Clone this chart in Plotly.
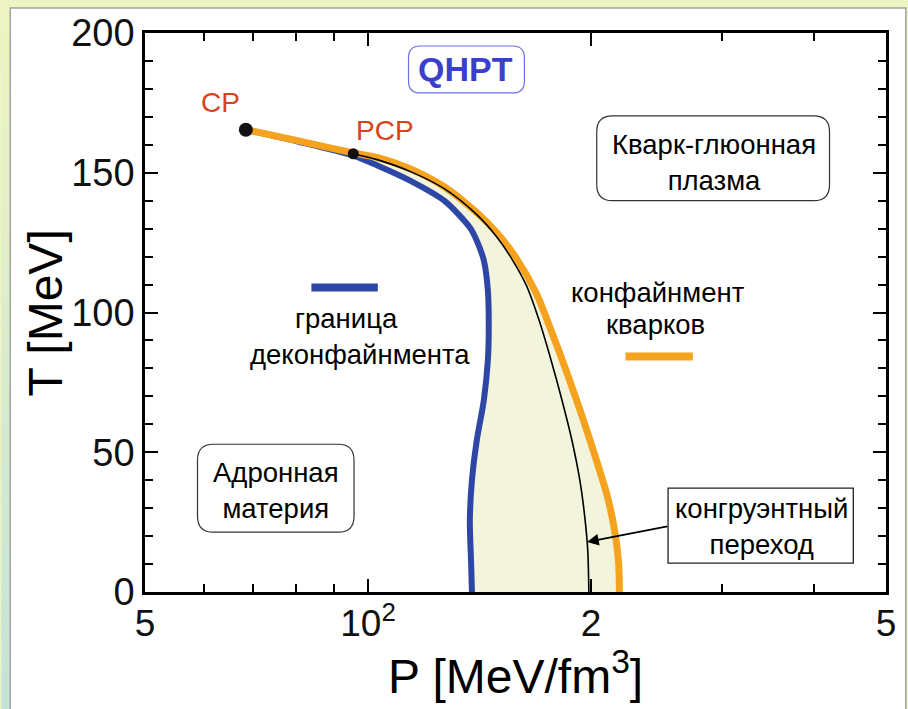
import numpy as np
import plotly.graph_objects as go

# Critical point (CP) and pseudo-critical point (PCP)
cp_P, cp_T = 68.4, 165.4
pcp_P, pcp_T = 95.5, 156.8

# Deconfinement boundary (blue)
decon_P = [68.4, 80.6, 95.5, 103.1, 114.1, 126.7, 137.2, 140.2, 143.3, 145.1,
           145.5, 145.1, 143.3, 140.2, 138.1, 137.2, 137.7, 138.1]
decon_T = [165.4, 161.1, 156.1, 152.5, 147.1, 140.0, 130.4, 125.7, 118.6, 107.9,
           93.6, 82.9, 68.6, 54.3, 40.0, 25.7, 11.4, 0.0]

# Quark confinement boundary (orange)
conf_P = [68.4, 80.6, 95.5, 103.1, 114.1, 126.7, 140.2, 149.1, 158.6, 168.7,
          176.6, 185.0, 194.3, 202.9, 210.5, 215.1, 217.8, 218.4]
conf_T = [165.4, 161.4, 157.1, 155.4, 151.4, 145.0, 135.7, 128.6, 119.3, 106.8,
          93.6, 79.3, 63.2, 47.9, 33.9, 22.1, 10.7, 0.0]

# Congruent transition (thin black)
cong_P = [95.5, 103.1, 114.1, 126.7, 140.2, 149.1, 156.2, 163.6, 170.2, 176.6,
          182.7, 188.4, 193.1, 196.1, 197.9, 198.6]
cong_T = [156.8, 154.6, 150.4, 144.3, 135.0, 127.1, 119.3, 109.6, 97.1, 82.9,
          68.6, 54.3, 40.0, 26.8, 15.0, 0.0]

# Axis ticks
x_tickvals = [50, 100, 200, 500]
x_ticktext = ["5", "10<sup>2</sup>", "2", "5"]
x_minor = [60, 70, 80, 90, 300, 400]
y_tickvals = [0, 50, 100, 150, 200]
x_range = [50, 500]
y_range = [0, 200]

FONT = "Liberation Sans, Arial, sans-serif"
BLUE = "#2e47a6"
ORANGE = "#f5a21f"
RED = "#d8441a"
FILL = "#f2f4dc"

# pixel geometry of the plot area (used for paper-coordinate decorations)
W, H = 908, 709
L, R, T_, B = 145, 15, 32, 117
PW, PH = W - L - R, H - T_ - B


def px(x):
    return (x - L) / PW


def py(y):
    return (H - B - y) / PH


def data_to_pixel(P, T):
    lo, hi = np.log10(x_range[0]), np.log10(x_range[1])
    xp = L + PW * (np.log10(P) - lo) / (hi - lo)
    yp = (H - B) - PH * (T - y_range[0]) / (y_range[1] - y_range[0])
    return xp, yp


def rounded(x0, y0, x1, y1, r):
    """Rounded rectangle path in paper coordinates (pixel inputs)."""
    a, b, c, d = px(x0), py(y1), px(x1), py(y0)
    rx, ry = r / PW, r / PH
    return (f"M {a+rx},{d} L {c-rx},{d} Q {c},{d} {c},{d-ry} "
            f"L {c},{b+ry} Q {c},{b} {c-rx},{b} L {a+rx},{b} "
            f"Q {a},{b} {a},{b+ry} L {a},{d-ry} Q {a},{d} {a+rx},{d} Z")


fig = go.Figure()

# shaded mixed-phase region between the two boundaries
poly_P = decon_P[2:] + conf_P[2:][::-1]
poly_T = decon_T[2:] + conf_T[2:][::-1]
fig.add_trace(go.Scatter(x=poly_P, y=poly_T, mode="lines", fill="toself",
                         fillcolor=FILL, line=dict(width=0, shape="spline"),
                         hoverinfo="skip", showlegend=False))

fig.add_trace(go.Scatter(x=decon_P, y=decon_T, mode="lines",
                         line=dict(color=BLUE, width=6, shape="spline", smoothing=0.8),
                         showlegend=False))
fig.add_trace(go.Scatter(x=conf_P, y=conf_T, mode="lines",
                         line=dict(color=ORANGE, width=7, shape="spline", smoothing=0.8),
                         showlegend=False))
fig.add_trace(go.Scatter(x=cong_P, y=cong_T, mode="lines",
                         line=dict(color="black", width=1.6, shape="spline", smoothing=0.8),
                         showlegend=False))
fig.add_trace(go.Scatter(x=[cp_P], y=[cp_T], mode="markers",
                         marker=dict(color="#111111", size=14), showlegend=False))
fig.add_trace(go.Scatter(x=[pcp_P], y=[pcp_T], mode="markers",
                         marker=dict(color="#111111", size=11), showlegend=False))

shapes = []
# page background: pale strips and white panel with grey border
n = 40
top_c = np.array([0xef, 0xf5, 0xc2])
bot_c = np.array([0xc6, 0xe3, 0xd9])
for i in range(n):
    t = (i + 0.5) / n
    c = (top_c * (1 - t) + bot_c * t).astype(int)
    shapes.append(dict(type="rect", xref="paper", yref="paper",
                       x0=px(0), x1=px(10), y0=py(i * H / n), y1=py((i + 1) * H / n + 1),
                       fillcolor=f"rgb({c[0]},{c[1]},{c[2]})", line=dict(width=0),
                       layer="below"))
shapes.append(dict(type="rect", xref="paper", yref="paper",
                   x0=px(9), x1=px(W + 5), y0=py(H + 5), y1=py(7),
                   fillcolor="white", line=dict(color="#a3a3a3", width=1.5),
                   layer="below"))

# legend-style line samples
shapes.append(dict(type="line", xref="paper", yref="paper",
                   x0=px(313), x1=px(380), y0=py(287), y1=py(287),
                   line=dict(color=BLUE, width=8)))
shapes.append(dict(type="line", xref="paper", yref="paper",
                   x0=px(630), x1=px(698), y0=py(356), y1=py(356),
                   line=dict(color=ORANGE, width=8)))

# label boxes
shapes.append(dict(type="path", xref="paper", yref="paper",
                   path=rounded(411, 45, 528, 92, 12),
                   fillcolor="white", line=dict(color="#6b6fe0", width=1.2)))
shapes.append(dict(type="path", xref="paper", yref="paper",
                   path=rounded(601, 115, 836, 200, 16),
                   fillcolor="white", line=dict(color="#333333", width=1.2)))
shapes.append(dict(type="path", xref="paper", yref="paper",
                   path=rounded(198, 444, 356, 532, 16),
                   fillcolor="white", line=dict(color="#333333", width=1.2)))
shapes.append(dict(type="rect", xref="paper", yref="paper",
                   x0=px(673), x1=px(860), y0=py(563), y1=py(488),
                   fillcolor="white", line=dict(color="#222222", width=1.3)))

ann = []


def label(x, y, text, size=27, color="black", **kw):
    ann.append(dict(xref="paper", yref="paper", x=px(x), y=py(y), text=text,
                    showarrow=False, xanchor="center", yanchor="middle",
                    font=dict(family=FONT, size=size, color=color), **kw))


label(469, 68, "<b>QHPT</b>", size=34, color="#3b40cc")
label(719, 162, "Кварк-глюонная<br>плазма", size=27.5, align="center")
label(277, 490, "Адронная<br>материя", size=27.5, align="center")
label(348, 318, "граница", size=27.5)
label(362, 354, "деконфайнмента", size=27.5)
label(663, 292, "конфайнмент", size=27.5)
label(660, 324, "кварков", size=27.5)
label(767, 526, "конгруэнтный<br>переход", size=27.5, align="center")

# axis titles
label(519, 673, "P [MeV/fm<sup>3</sup>]", size=48)
label(45, 312, "T [MeV]", size=48, textangle=-90)

# CP / PCP labels anchored to their points
ann.append(dict(x=np.log10(cp_P), y=cp_T, xref="x", yref="y", text="CP",
                showarrow=False, xshift=-25, yshift=27,
                font=dict(family=FONT, size=28, color=RED)))
ann.append(dict(x=np.log10(pcp_P), y=pcp_T, xref="x", yref="y", text="PCP",
                showarrow=False, xshift=32, yshift=23,
                font=dict(family=FONT, size=28, color=RED)))

# arrow from the "congruent transition" box to the black line
arrow_T = 17.9
arrow_P = float(np.interp(arrow_T, cong_T[::-1], cong_P[::-1]))
tip_x, tip_y = data_to_pixel(arrow_P, arrow_T)
ann.append(dict(x=np.log10(arrow_P), y=arrow_T, xref="x", yref="y",
                ax=673 - tip_x, ay=526 - tip_y, text="",
                showarrow=True, arrowhead=2, arrowsize=1.3, arrowwidth=1.8,
                arrowcolor="black"))

fig.update_layout(
    width=W, height=H,
    margin=dict(l=L, r=R, t=T_, b=B, pad=0),
    paper_bgcolor="#eff5c2", plot_bgcolor="white",
    shapes=shapes, annotations=ann,
    font=dict(family=FONT, color="black"),
)

axis_common = dict(showline=True, linecolor="black", linewidth=2.5, mirror="ticks",
                   ticks="inside", tickcolor="black", tickwidth=2, ticklen=13,
                   showgrid=False, zeroline=False)

fig.update_xaxes(type="log", range=[np.log10(x_range[0]), np.log10(x_range[1])],
                 tickvals=x_tickvals, ticktext=x_ticktext,
                 tickfont=dict(family=FONT, size=37, color="#111111"),
                 minor=dict(tickvals=x_minor, ticks="inside", ticklen=8,
                            tickwidth=2, tickcolor="black"),
                 ticklabelstandoff=-3,
                 **axis_common)
fig.update_yaxes(range=y_range, tickvals=y_tickvals,
                 tickfont=dict(family=FONT, size=38, color="#111111"),
                 minor=dict(dtick=10, ticks="inside", ticklen=8,
                            tickwidth=2, tickcolor="black"),
                 ticklabelstandoff=0,
                 **axis_common)

fig.write_html("out.html")
